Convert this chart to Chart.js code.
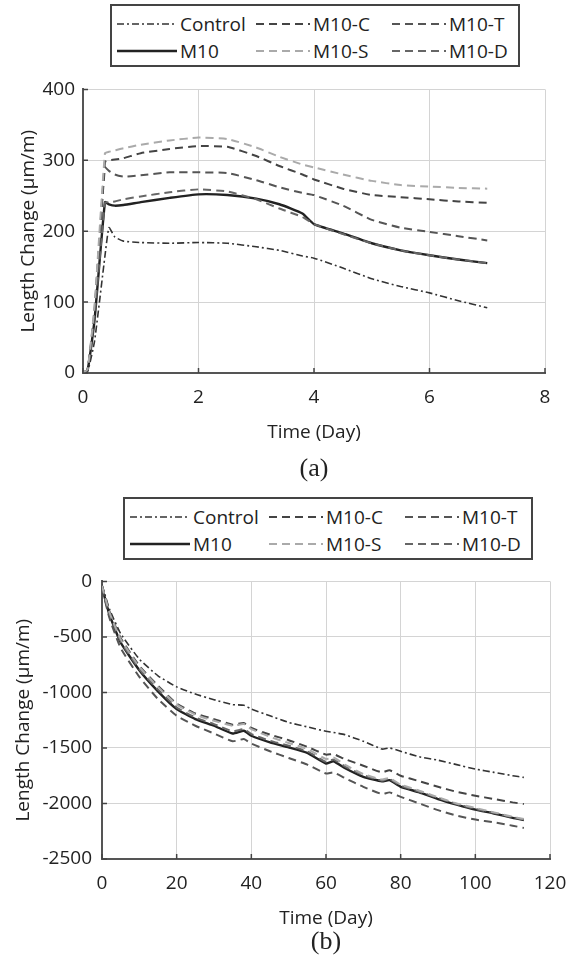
<!DOCTYPE html>
<html>
<head>
<meta charset="utf-8">
<script src="https://cdn.jsdelivr.net/npm/chart.js@4.4.0/dist/chart.umd.min.js"></script>
<style>
body { margin: 0; background: #fff; }
#page { position: relative; width: 580px; height: 959px; overflow: hidden; font-family: "Open Sans", sans-serif; color: #222; }
#page canvas { position: absolute; left: 0; }
.legend { position: absolute; width: 410px; height: 63px; border: 2px solid #444; box-sizing: border-box; }
.item { position: absolute; height: 26px; display: flex; align-items: center; font-size: 19px; white-space: nowrap; }
.item svg { margin-right: 3px; }
.caption { position: absolute; left: 0; width: 580px; text-align: center; font-family: "Liberation Serif", serif; font-size: 26px; }
</style>
</head>
<body>
<div id="page">
  <div class="legend" id="legendA" style="left:110px; top:4px;"></div>
  <canvas id="chartA" width="580" height="410" style="top:70px;"></canvas>
  <div class="caption" style="top:453px; left:24px;">(a)</div>
  <div class="legend" id="legendB" style="left:123px; top:497px;"></div>
  <canvas id="chartB" width="580" height="399" style="top:560px;"></canvas>
  <div class="caption" style="top:926px; left:36px;">(b)</div>
</div>
<script>
'use strict';

// (a) early age, days
const daysA = [0, 0.08, 0.2, 0.38, 0.45, 0.55, 0.7, 1, 1.5, 2, 2.5, 3, 3.4, 3.8, 4, 4.5, 5, 5.5, 6, 6.5, 7];
const controlA = [0, 2, 45, 165, 205, 192, 186, 184, 183, 184, 183, 178, 173, 165, 162, 148, 133, 122, 113, 102, 92];
const m10A  = [0, 4, 75, 241, 238, 236, 237, 241, 247, 252, 251, 246, 238, 225, 210, 197, 183, 173, 166, 160, 155];
const m10cA = [0, 5, 85, 298, 300, 301, 303, 310, 316, 320, 319, 306, 292, 280, 273, 260, 251, 248, 245, 242, 240];
const m10tA = [0, 5, 90, 290, 285, 280, 277, 279, 283, 283, 282, 272, 262, 254, 251, 236, 216, 205, 199, 193, 187];
const m10sA = [0, 5, 95, 310, 312, 314, 317, 322, 328, 332, 330, 318, 305, 294, 290, 280, 271, 265, 263, 261, 260];
const m10dA = [0, 4, 80, 240, 241, 242, 245, 249, 255, 259, 256, 245, 232, 220, 210, 196, 183, 173, 166, 160, 155];

// (b) long term, days
const daysB = [0, 2, 5, 10, 15, 20, 25, 30, 35, 38, 40, 45, 50, 55, 60, 62, 65, 70, 75, 77, 80, 85, 90, 95, 100, 105, 110, 113];
const controlB = [-30, -250, -470, -700, -850, -950, -1015, -1065, -1110, -1115, -1150, -1210, -1270, -1310, -1350, -1360, -1380, -1440, -1510, -1500, -1530, -1580, -1610, -1650, -1690, -1720, -1750, -1765];
const m10B  = [-50, -300, -550, -800, -990, -1150, -1240, -1300, -1370, -1345, -1390, -1450, -1495, -1545, -1640, -1620, -1680, -1760, -1800, -1790, -1850, -1900, -1960, -2010, -2055, -2090, -2130, -2150];
const m10cB = [-40, -270, -510, -760, -940, -1100, -1190, -1240, -1290, -1275, -1320, -1380, -1430, -1490, -1560, -1555, -1600, -1660, -1720, -1700, -1750, -1800, -1850, -1895, -1930, -1960, -1990, -2005];
const m10tB = [-60, -330, -600, -860, -1060, -1210, -1300, -1370, -1440, -1420, -1460, -1530, -1590, -1650, -1730, -1720, -1770, -1850, -1915, -1900, -1940, -2000, -2060, -2110, -2145, -2170, -2200, -2220];
const m10sB = [-40, -280, -520, -770, -950, -1110, -1200, -1255, -1300, -1285, -1330, -1400, -1455, -1510, -1600, -1585, -1650, -1735, -1785, -1770, -1830, -1885, -1945, -2000, -2040, -2080, -2120, -2140];
const m10dB = [-45, -290, -540, -790, -975, -1135, -1225, -1285, -1350, -1330, -1375, -1435, -1480, -1530, -1625, -1605, -1665, -1745, -1795, -1780, -1840, -1895, -1950, -2005, -2050, -2085, -2125, -2145];

const seriesNames = ['Control', 'M10-C', 'M10-T', 'M10', 'M10-S', 'M10-D'];
const ticksA = { xMax: 8, xStep: 2, yMin: 0, yMax: 400, yStep: 100 };
const ticksB = { xMax: 120, xStep: 20, yMin: -2500, yMax: 0, yStep: 500 };

const styles = {
  'Control': { color: '#333', dash: [7, 3, 2, 3], width: 1.6 },
  'M10':     { color: '#222', dash: [], width: 2.4 },
  'M10-C':   { color: '#444', dash: [8, 5], width: 2 },
  'M10-T':   { color: '#555', dash: [8, 5], width: 2 },
  'M10-S':   { color: '#aaa', dash: [8, 5], width: 2 },
  'M10-D':   { color: '#666', dash: [8, 5], width: 2 }
};

function toPoints(days, values) {
  return days.map((d, i) => ({ x: d, y: values[i] }));
}

function buildLegend(el) {
  const colLeft = [5, 144, 280];
  const sampleW = [60, 54, 54];
  seriesNames.forEach((name, i) => {
    const col = i % 3, row = Math.floor(i / 3);
    const st = styles[name];
    const w = sampleW[col];
    const item = document.createElement('div');
    item.className = 'item';
    item.style.left = colLeft[col] + 'px';
    item.style.top = (row === 0 ? 5 : 32) + 'px';
    item.innerHTML = '<svg width="' + w + '" height="10"><line x1="0" y1="5" x2="' + w + '" y2="5" stroke="' + st.color +
      '" stroke-width="' + st.width + '" stroke-dasharray="' + st.dash.join(' ') + '"/></svg>' + name;
    el.appendChild(item);
  });
}

// small inward tick marks like the original axes
const innerTicks = {
  id: 'innerTicks',
  afterDraw(chart) {
    const ctx = chart.ctx, a = chart.chartArea;
    const xs = chart.scales.x, ys = chart.scales.y;
    ctx.save();
    ctx.strokeStyle = '#444';
    ctx.lineWidth = 1.5;
    ctx.beginPath();
    xs.ticks.forEach(t => { const px = xs.getPixelForValue(t.value); ctx.moveTo(px, a.bottom); ctx.lineTo(px, a.bottom - 5); });
    ys.ticks.forEach(t => { const py = ys.getPixelForValue(t.value); ctx.moveTo(a.left, py); ctx.lineTo(a.left + 5, py); });
    ctx.stroke();
    ctx.restore();
  }
};

function makeChart(id, days, seriesData, tk, box) {
  const datasets = seriesNames.map((name, i) => ({
    label: name,
    data: toPoints(days, seriesData[i]),
    borderColor: styles[name].color,
    borderDash: styles[name].dash,
    borderWidth: styles[name].width,
    pointRadius: 0,
    fill: false,
    tension: 0.15
  }));
  // solid M10 on top
  const order = [4, 1, 2, 5, 0, 3];
  const sorted = order.map(i => datasets[i]);
  const font = { family: 'Open Sans', size: 19 };
  return new Chart(document.getElementById(id), {
    type: 'line',
    data: { datasets: sorted },
    options: {
      responsive: false,
      animation: false,
      layout: { padding: box.padding },
      plugins: { legend: { display: false }, tooltip: { enabled: false } },
      scales: {
        x: {
          type: 'linear', min: 0, max: tk.xMax,
          ticks: { stepSize: tk.xStep, color: '#222', font: font, padding: 13, maxRotation: 0 },
          grid: { color: '#d4d4d4', lineWidth: 1, drawTicks: false },
          border: { color: '#555', width: 2 },
          title: { display: true, text: 'Time (Day)', color: '#222', font: font, padding: { top: 0, bottom: 9 } },
          afterFit: function(scale) { scale.height = 80; }
        },
        y: {
          min: tk.yMin, max: tk.yMax,
          ticks: { stepSize: tk.yStep, color: '#222', font: font, padding: box.yPad, callback: v => String(v) },
          grid: { color: '#d4d4d4', lineWidth: 1, drawTicks: false },
          border: { color: '#555', width: 2 },
          title: { display: true, text: 'Length Change (µm/m)', color: '#222', font: font, padding: { top: box.titlePad, bottom: 0 } },
          afterFit: function(scale) { scale.width = box.yWidth; }
        }
      }
    },
    plugins: [innerTicks]
  });
}

function init() {
  buildLegend(document.getElementById('legendA'));
  buildLegend(document.getElementById('legendB'));
  makeChart('chartA', daysA, [controlA, m10cA, m10tA, m10A, m10sA, m10dA], ticksA,
    { padding: { top: 19, right: 35, bottom: 27, left: 0 }, yWidth: 83, yPad: 8, titlePad: 17 });
  makeChart('chartB', daysB, [controlB, m10cB, m10tB, m10B, m10sB, m10dB], ticksB,
    { padding: { top: 18, right: 30, bottom: 20, left: 0 }, yWidth: 102, yPad: 10, titlePad: 12 });
}

init();
</script>
</body>
</html>
